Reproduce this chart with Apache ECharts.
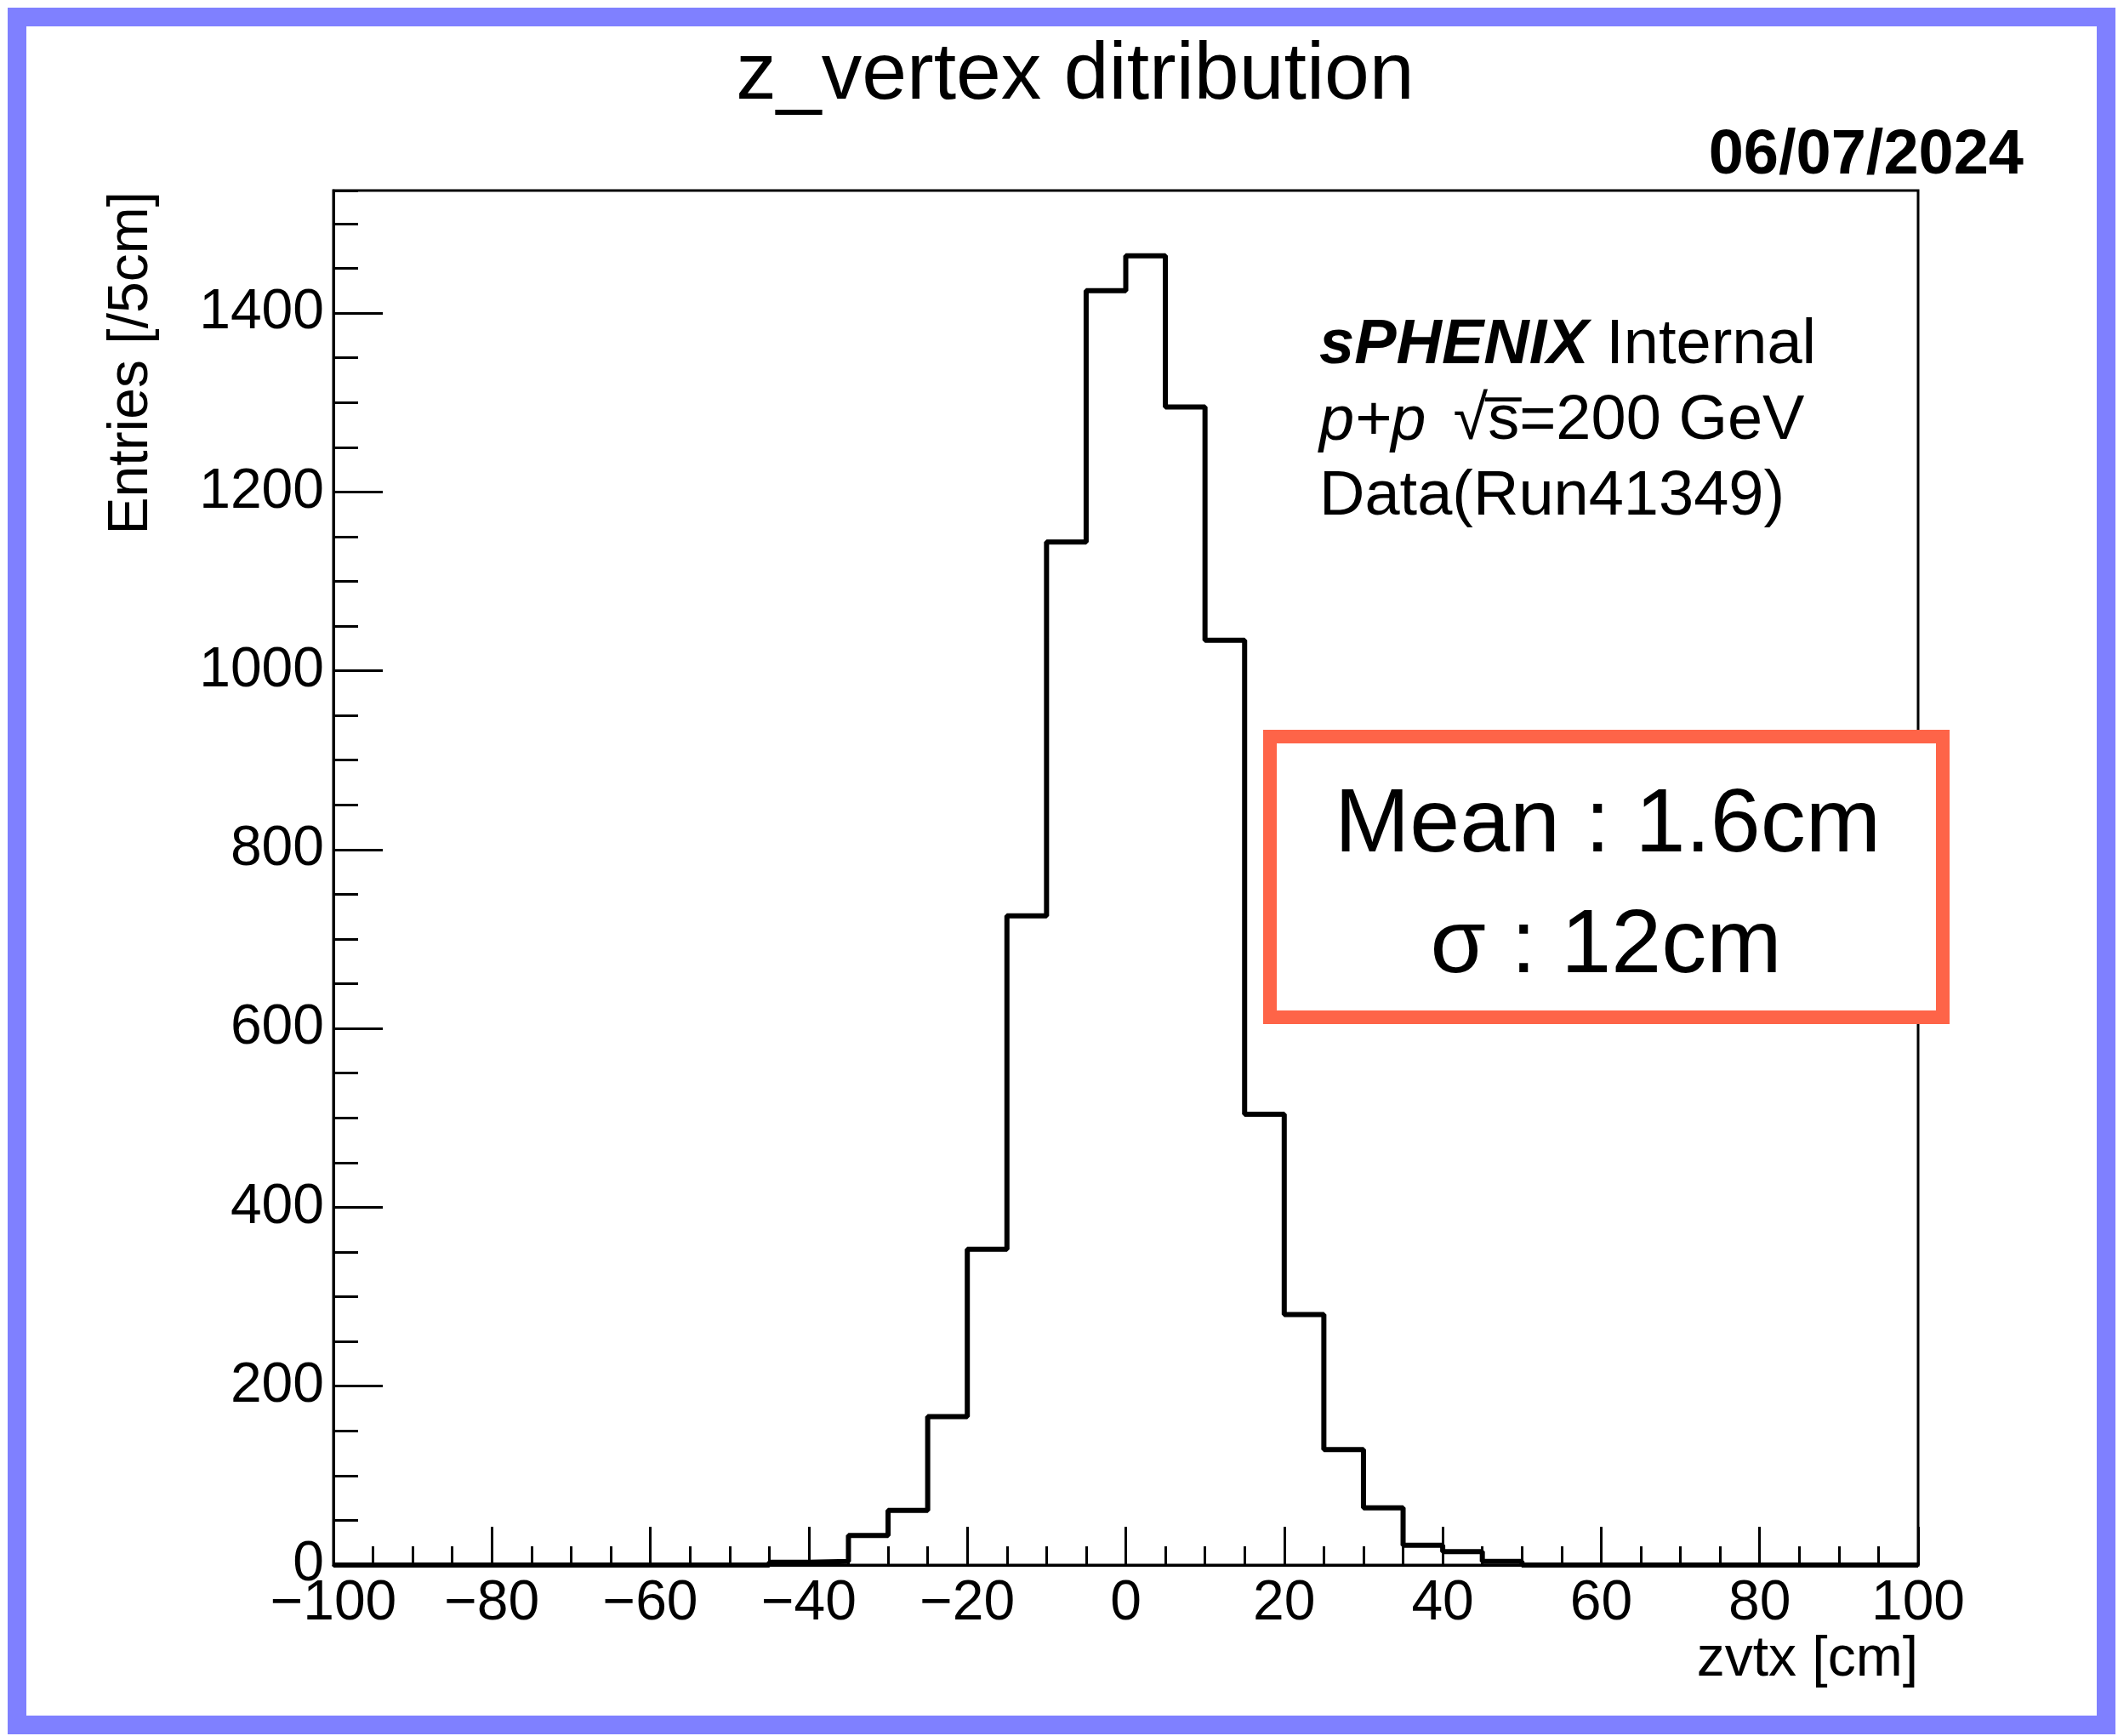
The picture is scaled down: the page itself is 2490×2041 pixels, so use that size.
<!DOCTYPE html>
<html>
<head>
<meta charset="utf-8">
<title>z_vertex ditribution</title>
<script src="https://cdn.jsdelivr.net/npm/echarts@6/dist/echarts.min.js"></script>
<style>
  html, body { margin: 0; padding: 0; background: #fff; }
  #main { width: 2490px; height: 2041px; }
</style>
</head>
<body>
<div id="main"></div>
<script>
  // histogram bins, 5 cm wide
  var binEdges = [-100, -95, -90, -85, -80, -75, -70, -65, -60, -55,
                  -50, -45, -40, -35, -30, -25, -20, -15, -10, -5,
                  0, 5, 10, 15, 20, 25, 30, 35, 40, 45,
                  50, 55, 60, 65, 70, 75, 80, 85, 90, 95, 100];
  var entries = [0, 0, 0, 0, 0, 0, 0, 0, 0, 0,
                 0, 3, 4, 33, 61, 166, 353, 726, 1144, 1425,
                 1464, 1295, 1034, 504, 280, 129, 64, 22, 15, 4,
                 0, 0, 0, 0, 0, 0, 0, 0, 0, 0];

  var xRange = [-100, 100];
  var yRange = [0, 1537];
  var xStep = 20;
  var yStep = 200;
  var yMinorStep = 50;

  var titleText = 'z_vertex ditribution';
  var dateText = '06/07/2024';
  var xName = 'zvtx [cm]';
  var yName = 'Entries [/5cm]';
  var infoLines = ['{b|sPHENIX} Internal', '{i|p+p}{sq|\u221As\u0305}=200 GeV', 'Data(Run41349)'];
  var statLines = ['Mean : 1.6cm', '\u03c3 : 12cm'];

  var FONT = '"Liberation Sans", Arial, Helvetica, sans-serif';

  // step outline: left edge of each bin, then close at the last edge
  var histData = [];
  for (var i = 0; i < entries.length; i++) {
    histData.push([binEdges[i], entries[i]]);
  }
  histData.push([binEdges[binEdges.length - 1], entries[entries.length - 1]]);

  var option = {
    backgroundColor: '#ffffff',
    animation: false,
    textStyle: { fontFamily: FONT },
    grid: {
      left: 392, right: 235, top: 224, bottom: 201,
      show: true, borderColor: '#000', borderWidth: 3,
      backgroundColor: 'transparent'
    },
    xAxis: {
      type: 'value',
      min: xRange[0], max: xRange[1], interval: xStep,
      axisLine: { show: true, onZero: false, lineStyle: { color: '#000', width: 3 } },
      axisTick: { inside: true, length: 45, lineStyle: { color: '#000', width: 3 } },
      minorTick: { show: true, splitNumber: 4, length: 22, lineStyle: { color: '#000', width: 3 } },
      splitLine: { show: false },
      minorSplitLine: { show: false },
      axisLabel: {
        margin: 13, color: '#000', fontSize: 66, fontFamily: FONT,
        formatter: function (v) { return String(v).replace('-', '\u2212'); }
      }
    },
    yAxis: [
      {
        type: 'value',
        position: 'left',
        min: yRange[0], max: yRange[1], interval: yStep,
        axisLine: { show: true, onZero: false, lineStyle: { color: '#000', width: 3 } },
        axisTick: { inside: true, length: 58, lineStyle: { color: '#000', width: 3 } },
        splitLine: { show: false },
        axisLabel: {
          margin: 11, color: '#000', fontSize: 66, fontFamily: FONT,
          showMaxLabel: false,
          formatter: function (v) { return v % yStep === 0 ? String(v) : ''; }
        }
      },
      {
        // minor ticks every 50 entries
        type: 'value',
        position: 'left',
        min: yRange[0], max: yRange[1], interval: yMinorStep,
        axisLine: { show: false, onZero: false },
        axisTick: { inside: true, length: 29, lineStyle: { color: '#000', width: 3 } },
        splitLine: { show: false },
        axisLabel: { show: false }
      }
    ],
    series: [
      {
        type: 'line',
        step: 'end',
        data: histData,
        symbol: 'none',
        clip: false,
        lineStyle: { color: '#000', width: 6 },
        z: 5
      }
    ],
    graphic: [
      // outer sketch frame
      {
        type: 'rect', z: 100,
        shape: { x: 20, y: 20, width: 2456, height: 2008 },
        style: { fill: 'none', stroke: '#7f80ff', lineWidth: 22 }
      },
      {
        type: 'text', z: 100,
        x: 1264, y: 90,
        style: { text: titleText, font: '95px ' + FONT, fill: '#000', textAlign: 'center', textVerticalAlign: 'middle' }
      },
      {
        type: 'text', z: 100,
        x: 2379, y: 184,
        style: { text: dateText, font: 'bold 74px ' + FONT, fill: '#000', textAlign: 'right', textVerticalAlign: 'middle' }
      },
      {
        type: 'text', z: 100,
        x: 1551, y: 407,
        style: {
          text: infoLines[0], font: '74px ' + FONT, fill: '#000', textVerticalAlign: 'middle',
          rich: { b: { fontWeight: 'bold', fontStyle: 'italic', fontSize: 74, fontFamily: FONT } }
        }
      },
      {
        type: 'text', z: 100,
        x: 1551, y: 496,
        style: {
          text: infoLines[1], font: '74px ' + FONT, fill: '#000', textVerticalAlign: 'middle',
          rich: {
            i: { fontStyle: 'italic', fontSize: 74, fontFamily: FONT },
            sq: { fontSize: 74, fontFamily: FONT, padding: [0, 0, 0, 32] }
          }
        }
      },
      {
        type: 'text', z: 100,
        x: 1551, y: 585,
        style: { text: infoLines[2], font: '74px ' + FONT, fill: '#000', textVerticalAlign: 'middle' }
      },
      // stats box
      {
        type: 'rect', z: 100,
        shape: { x: 1493, y: 866, width: 791, height: 330 },
        style: { fill: '#fff', stroke: '#fe6448', lineWidth: 16 }
      },
      {
        type: 'text', z: 101,
        x: 1890, y: 972,
        style: { text: statLines[0], font: '106px ' + FONT, fill: '#000', textAlign: 'center', textVerticalAlign: 'middle' }
      },
      {
        type: 'text', z: 101,
        x: 1888, y: 1114,
        style: { text: statLines[1], font: '106px ' + FONT, fill: '#000', textAlign: 'center', textVerticalAlign: 'middle' }
      },
      // axis titles
      {
        type: 'text', z: 100,
        x: 2255, y: 1952,
        style: { text: xName, font: '66px ' + FONT, fill: '#000', textAlign: 'right', textVerticalAlign: 'middle' }
      },
      {
        type: 'text', z: 100,
        x: 155, y: 225, rotation: Math.PI / 2,
        style: { text: yName, font: '66px ' + FONT, fill: '#000', textAlign: 'right', textVerticalAlign: 'middle' }
      }
    ]
  };

  var chart = echarts.init(document.getElementById('main'), null, { renderer: 'canvas' });
  chart.setOption(option);
</script>
</body>
</html>
